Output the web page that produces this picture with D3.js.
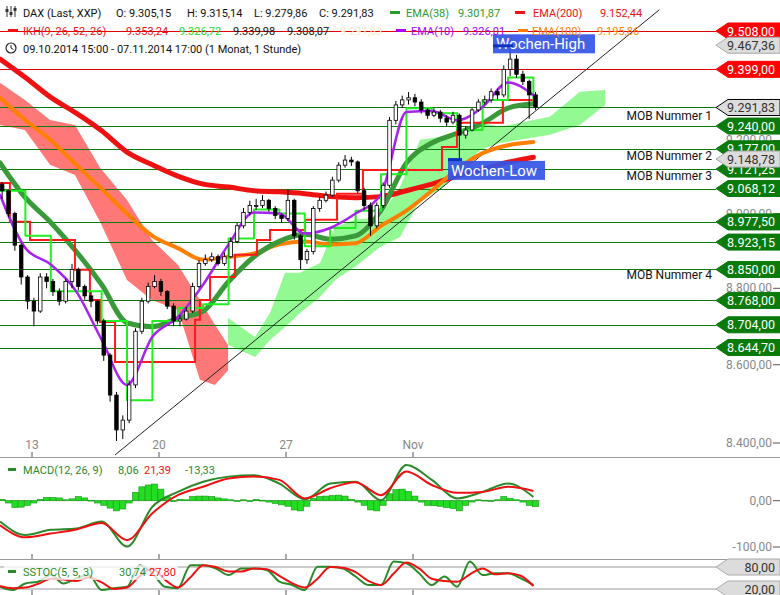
<!DOCTYPE html>
<html><head><meta charset="utf-8">
<script src="https://cdn.jsdelivr.net/npm/d3@7"></script>
<style>body{margin:0;background:#fff}svg{display:block;font-family:Roboto,"Liberation Sans",sans-serif}</style>
</head><body><svg id="c" width="780" height="595"></svg>
<script>
// ---------- DATA ----------
const closes=[9062,9000,8915,8830,8766,8740,8830,8818,8792,8766,8818,8850,8805,8780,8766,8714,8625,8522,8433,8458,8548,8687,8766,8805,8818,8792,8753,8714,8719,8740,8805,8866,8876,8884,8866,8884,8925,8967,9003,9022,9022,9036,9014,8995,8987,9036,8940,8876,8898,9014,9036,9050,9091,9132,9146,9141,9062,9022,8967,9022,9077,9256,9299,9313,9319,9307,9285,9270,9279,9262,9251,9270,9215,9229,9285,9307,9313,9336,9327,9399,9428,9385,9365,9327,9292];
const highs=[9085,9065,9005,8920,8835,8775,8840,8840,8825,8800,8825,8865,8855,8810,8790,8770,8720,8630,8530,8470,8560,8695,8775,8815,8835,8825,8795,8760,8730,8750,8815,8875,8890,8895,8890,8895,8935,8975,9015,9035,9040,9050,9040,9020,9000,9065,9040,8945,8905,9020,9045,9060,9100,9140,9160,9155,9145,9070,9030,9030,9085,9265,9310,9325,9335,9330,9315,9290,9290,9285,9270,9280,9275,9240,9290,9315,9325,9345,9345,9410,9465,9440,9395,9370,9335];
const lows=[9040,8990,8900,8810,8745,8700,8735,8800,8780,8755,8760,8800,8795,8770,8750,8705,8610,8505,8405,8410,8450,8540,8680,8760,8800,8780,8745,8700,8700,8715,8735,8800,8860,8870,8860,8860,8880,8920,8960,8995,9010,9015,9005,8985,8975,8980,8930,8850,8865,8890,9005,9030,9045,9085,9125,9130,9055,9010,8940,8960,9015,9070,9245,9290,9300,9295,9275,9260,9265,9250,9240,9245,9150,9205,9225,9280,9300,9305,9315,9320,9380,9375,9355,9260,9285];
const firstOpen=9080;
const ema200=[9428,9376,9320,9276,9227,9168,9133,9102,9080,9072,9062,9059,9054,9046,9043,9046,9062,9080,9102,9121,9140,9154];
const ema100=[9319,9256,9201,9133,9067,9000,8940,8907,8876,8884,8893,8917,8925,8917,8920,8967,9008,9062,9121,9165,9187,9196];
const ema38=[9138,9043,8976,8898,8810,8709,8699,8721,8740,8818,8884,8925,8944,8931,8940,9008,9138,9193,9220,9248,9290,9302];
const ema10=[9051,8907,8863,8792,8665,8548,8673,8724,8810,8917,9003,9000,8946,8961,9000,9053,9279,9282,9256,9293,9362,9326];
const tenkan=[9062,8940,8792,8792,8714,8509,8714,8748,8758,8933,9011,9000,8912,8961,9008,9107,9290,9276,9229,9313,9376,9313];
const kijunT=[-1.26,-0.87,-0.08,1.69,2.28,2.68,3.27,6.02,6.42,6.61,7.01,7.99,8.86,9.37,10.75,12.01,13.03,14.37,16.14,16.73,18.54,19.8];
const kijunV=[9083,8978,8929,8849,8769,8711,8607,8607,8717,8769,8830,8889,8929,8956,8983,9054,9119,9119,9182,9249,9313,9313];
const redCloudT=[-1.26,-0.28,0.71,1.69,2.68,3.74,4.72,5.75,6.61,7.2,7.72];
const redCloudTop=[9361,9313,9257,9243,9125,9037,8929,8862,8769,8704,8651];
const redCloudBot=[9243,9229,9133,9105,8978,8822,8769,8743,8561,8548,8586];
const greenCloudT=[7.72,8.78,9.37,9.96,10.55,11.34,11.93,12.72,13.7,14.49,15.28,16.06,16.85,17.64,18.43,19.21,20.39,21.57,22.56];
const greenCloudTop=[8722,8672,8735,8841,8841,8867,8964,8983,8991,9073,9202,9210,9229,9249,9238,9249,9266,9336,9341];
const greenCloudBot=[8651,8620,8664,8698,8735,8777,8822,8857,8910,8937,9037,9064,9119,9174,9193,9202,9216,9243,9299];
const trendT=[3.27,24.7], trendV=[8370,9569];
const levels=[
 {v:9508,txt:"9.508,00",kind:"red",line:true},
 {v:9467.36,txt:"9.467,36",kind:"gray",line:false},
 {v:9399,txt:"9.399,00",kind:"red",line:true},
 {v:9291.83,txt:"9.291,83",kind:"cur",line:true},
 {v:9240,txt:"9.240,00",kind:"green",line:true},
 {v:9177,txt:"9.177,00",kind:"green",line:true},
 {v:9121.25,txt:"9.121,25",kind:"green",line:true},
 {v:9148.78,txt:"9.148,78",kind:"gray",line:false},
 {v:9068.12,txt:"9.068,12",kind:"green",line:true},
 {v:8977.5,txt:"8.977,50",kind:"green",line:true},
 {v:8923.15,txt:"8.923,15",kind:"green",line:true},
 {v:8850,txt:"8.850,00",kind:"green",line:true},
 {v:8768,txt:"8.768,00",kind:"green",line:true},
 {v:8704,txt:"8.704,00",kind:"green",line:true},
 {v:8644.7,txt:"8.644,70",kind:"green",line:true}];
const mobLabels=[{t:"MOB Nummer 1",v:9268},{t:"MOB Nummer 2",v:9157},{t:"MOB Nummer 3",v:9103},{t:"MOB Nummer 4",v:8834}];
const priceTicks=[8400,8600,8800,9000,9200];
const dayTicks=[{t:0,l:"13"},{t:5,l:"20"},{t:10,l:"27"},{t:15,l:"Nov"}];
const macdHist=[3,-5,-15,-14,-10,-5,3,7,7,6,2,4,9,6,1,-5,-10,-16,-22,-18,-5,18,30,34,36,25,8,-2,3,2,9,10,10,9,6,4,2,-1,2,-2,3,1,-3,-6,-9,-12,-20,-22,-12,5,9,10,11,12,10,3,-3,-10,-20,-22,-10,15,24,25,20,10,-3,-10,-11,-12,-15,-17,-22,-10,-3,2,1,-2,2,9,5,2,-3,-10,-13];
const macdLine=[-45,-74,-63,-60,-45,-99,-13,19,41,52,55,37,3,37,41,1,77,45,5,19,37,8];
const macdSignal=[-53,-79,-71,-62,-48,-85,-27,12,30,48,52,45,5,27,40,12,63,34,17,19,30,21];
const stochK=[26,17,35,40,58,35,49,58,17,22,26,85,63,26,22,85,85,76,58,76,76,72,40,31,17,81,81,76,54,31,31,95,90,63,31,54,26,95,58,63,63,49,31];
const stochD=[28,22,24,34,48,46,42,52,38,20,24,55,75,45,24,52,85,80,68,68,76,74,56,36,24,48,80,78,66,42,31,62,92,76,48,42,40,60,76,60,63,56,28];

// ---------- SCALES ----------
const svg=d3.select("#c");
const x=d3.scaleLinear().domain([0,20]).range([32,540]);
const y=d3.scaleLog().domain([8400,9508]).range([443,31]);
const yM=d3.scaleLinear().domain([-100,0]).range([547,500.7]);
const yS=d3.scaleLinear().domain([20,80]).range([589,567]);
const loc=d3.formatLocale({decimal:",",thousands:".",grouping:[3],currency:["",""]});
const f2=loc.format(",.2f");
const candleT=i=>-1.3+(i+0.5)*0.25;
const dayT=i=>-1.26+i;
const halfT=i=>-1.26+i*0.5;

const main=svg.append("g");
main.append("clipPath").attr("id","mc").append("rect").attr("x",0).attr("y",0).attr("width",716).attr("height",456);
const g=main.append("g").attr("clip-path","url(#mc)");

const area=(T,top,bot)=>d3.area().x((d,i)=>x(T[i])).y0((d,i)=>y(bot[i])).y1((d,i)=>y(top[i]))(top);
g.append("path").attr("d",area(redCloudT,redCloudTop,redCloudBot)).attr("fill","#ff7878");
g.append("path").attr("d",area(greenCloudT,greenCloudTop,greenCloudBot)).attr("fill","#93f993");

priceTicks.forEach(v=>{
  svg.append("text").attr("x",772).attr("y",y(v)+4).attr("text-anchor","end").attr("font-size",12).attr("fill","#888").text(f2(v));
  svg.append("line").attr("x1",773).attr("x2",780).attr("y1",y(v)).attr("y2",y(v)).attr("stroke","#555");
});

levels.filter(l=>l.line).forEach(l=>{
  g.append("line").attr("x1",0).attr("x2",716).attr("y1",Math.round(y(l.v))+0.5).attr("y2",Math.round(y(l.v))+0.5)
   .attr("stroke",l.kind==="red"?"#e00000":"#0a7a0a").attr("stroke-width",1.2);
});

g.append("line").attr("x1",x(trendT[0])).attr("y1",y(trendV[0])).attr("x2",x(trendT[1])).attr("y2",y(trendV[1])).attr("stroke","#222").attr("stroke-width",1);

const ln=(T,V,col,w,curve)=>g.append("path").attr("d",d3.line().x((d,i)=>x(T(i))).y(d=>y(d)).curve(curve||d3.curveMonotoneX)(V))
  .attr("fill","none").attr("stroke",col).attr("stroke-width",w).attr("stroke-linejoin","round").attr("stroke-linecap","round");
ln(dayT,ema200,"#ee1111",5);
ln(dayT,ema100,"#ff8000",4);
ln(dayT,ema38,"#3a9a3a",5);
g.append("path").attr("d",d3.line().x((d,i)=>x(kijunT[i])).y(d=>y(d)).curve(d3.curveStepAfter)(kijunV)).attr("fill","none").attr("stroke","#ff1a1a").attr("stroke-width",2);
ln(dayT,tenkan,"#22ee22",2,d3.curveStepAfter);
ln(dayT,ema10,"#a822ee",2.5);

closes.forEach((c,i)=>{
  const o=i?closes[i-1]:firstOpen, cx=x(candleT(i));
  g.append("line").attr("x1",cx).attr("x2",cx).attr("y1",y(highs[i])).attr("y2",y(lows[i])).attr("stroke","#000");
  const top=y(Math.max(o,c)), bot=y(Math.min(o,c));
  g.append("rect").attr("x",cx-1.75).attr("width",3.5).attr("y",top).attr("height",Math.max(1,bot-top))
   .attr("fill",c>=o?"#fff":"#000").attr("stroke","#000").attr("stroke-width",0.8);
});

const wbox=(x0,x1,y0,txt)=>{
  svg.append("rect").attr("x",x0).attr("y",y0).attr("width",x1-x0).attr("height",19).attr("fill","#3355e6").attr("opacity",0.92);
  svg.append("text").attr("x",x0+3).attr("y",y0+15).attr("font-size",15).attr("fill","#fff").text(txt);
};
wbox(448,545,y(9141)-1,"Wochen-Low");
svg.append("rect").attr("x",448).attr("y",y(9146)-2).attr("width",14).attr("height",3).attr("fill","#1030c0");
wbox(493,595,y(9490)-3,"Wochen-High");
svg.append("rect").attr("x",493).attr("y",y(9470)).attr("width",20).attr("height",3).attr("fill","#1030c0");

mobLabels.forEach(m=>svg.append("text").attr("x",712).attr("y",y(m.v)+4).attr("text-anchor","end").attr("font-size",12).attr("fill","#111").text(m.t));

const tag=(yy,txt,kind)=>{
  const fill={red:"#ff0000",green:"#0a7a0a",gray:"#dcdcdc",cur:"#dcdcdc"}[kind];
  const tg=svg.append("g");
  tg.append("path").attr("d",`M716,${yy} L728,${yy-8} L780,${yy-8} L780,${yy+8} L728,${yy+8} Z`).attr("fill",fill)
    .attr("stroke",kind==="cur"?"#000":(kind==="gray"?"#aaa":fill)).attr("stroke-width",1);
  tg.append("text").attr("x",775).attr("y",yy+4.5).attr("text-anchor","end").attr("font-size",12.5)
    .attr("fill",(kind==="gray"||kind==="cur")?"#333":"#fff").text(txt);
};
levels.forEach(l=>tag(y(l.v),l.txt,l.kind));

dayTicks.forEach(d=>{
  svg.append("text").attr("x",x(d.t)).attr("y",449).attr("text-anchor","middle").attr("font-size",12).attr("fill","#888").text(d.l);
  [457,559,595].forEach(yy=>svg.append("line").attr("x1",x(d.t)).attr("x2",x(d.t)).attr("y1",yy-5).attr("y2",yy).attr("stroke","#555"));
});
svg.append("line").attr("x1",0).attr("x2",780).attr("y1",457.5).attr("y2",457.5).attr("stroke","#999");
svg.append("line").attr("x1",0).attr("x2",780).attr("y1",559.5).attr("y2",559.5).attr("stroke","#999");

svg.append("line").attr("x1",0).attr("x2",540).attr("y1",yM(0)).attr("y2",yM(0)).attr("stroke","#bbb");
macdHist.forEach((v,i)=>{
  const cx=x(candleT(i));
  svg.append("rect").attr("x",cx-3).attr("width",6).attr("y",Math.min(yM(v),yM(0))).attr("height",Math.max(0.8,Math.abs(yM(v)-yM(0))))
    .attr("fill","#22dd22").attr("stroke","#119911").attr("stroke-width",0.6);
});
const ml=(T,V,sc,col)=>svg.append("path").attr("d",d3.line().x((d,i)=>x(T(i))).y(d=>sc(d)).curve(d3.curveMonotoneX)(V)).attr("fill","none").attr("stroke",col).attr("stroke-width",2);
ml(dayT,macdLine,yM,"#2a8a2a");
ml(dayT,macdSignal,yM,"#ee1111");
[[0,"0,00"],[-100,"-100,00"]].forEach(([v,t])=>{
  svg.append("text").attr("x",772).attr("y",yM(v)+4).attr("text-anchor","end").attr("font-size",12).attr("fill","#888").text(t);
  svg.append("line").attr("x1",773).attr("x2",780).attr("y1",yM(v)).attr("y2",yM(v)).attr("stroke","#555");
});
const H=(xx,yy,t,c)=>svg.append("text").attr("x",xx).attr("y",yy).attr("font-size",11).attr("fill",c).text(t);
svg.append("rect").attr("x",4).attr("y",463).attr("width",212).attr("height",15).attr("fill","#fff").attr("opacity",0.75);
svg.append("rect").attr("x",8).attr("y",468).attr("width",8).attr("height",3).attr("fill","#2a8a2a");
H(23,474,"MACD(12, 26, 9)","#2a8a2a"); H(118,474,"8,06","#2a8a2a"); H(144,474,"21,39","#ee1111"); H(185,474,"-13,33","#2a8a2a");

[80,20].forEach(v=>svg.append("line").attr("x1",0).attr("x2",716).attr("y1",yS(v)).attr("y2",yS(v)).attr("stroke","#999"));
ml(halfT,stochK,yS,"#2a8a2a");
ml(halfT,stochD,yS,"#ee1111");
[[80,"80,00"],[20,"20,00"]].forEach(([v,t])=>tag(yS(v),t,"gray"));
svg.append("rect").attr("x",4).attr("y",565).attr("width",174).attr("height",15).attr("fill","#fff").attr("opacity",0.75);
svg.append("rect").attr("x",8).attr("y",570).attr("width",8).attr("height",3).attr("fill","#2a8a2a");
H(23,576,"SSTOC(5, 5, 3)","#2a8a2a"); H(119,576,"30,74","#2a8a2a"); H(149,576,"27,80","#ee1111");

const dash=(xx,yy,c)=>svg.append("rect").attr("x",xx).attr("y",yy).attr("width",10).attr("height",3).attr("fill",c);
[7,11,15].forEach((xx,i)=>{svg.append("line").attr("x1",xx).attr("x2",xx).attr("y1",6).attr("y2",17).attr("stroke","#333");
 svg.append("rect").attr("x",xx-1.5).attr("y",[9,12,8][i]).attr("width",3).attr("height",3).attr("fill","#333");});
H(23,17,"DAX (Last, XXP)","#111"); H(116,17,"O: 9.305,15","#111"); H(187,17,"H: 9.315,14","#111"); H(254,17,"L: 9.279,86","#111"); H(319,17,"C: 9.291,83","#111");
dash(390,11,"#2a9a2a"); H(406,17,"EMA(38)","#2a9a2a"); H(458,17,"9.301,87","#2a9a2a");
dash(515,11,"#ee1111"); H(533,17,"EMA(200)","#ee1111"); H(600,17,"9.152,44","#ee1111");
dash(8,29,"#ee1111"); H(23,35,"IKH(9, 26, 52, 26)","#ee1111"); H(126,35,"9.353,24","#ee1111");
H(179,35,"9.326,72","#22dd22"); H(233,35,"9.339,98","#111"); H(287,35,"9.308,07","#111"); H(340,35,"9.291,83","#f4ecc8");
dash(396,29,"#aa00ff"); H(411,35,"EMA(10)","#aa00ff"); H(463,35,"9.326,01","#aa00ff");
dash(518,29,"#ff8000"); H(532,35,"EMA(100)","#ff8000"); H(597,35,"9.195,86","#ff8000");
svg.append("circle").attr("cx",11).attr("cy",48).attr("r",5).attr("fill","none").attr("stroke","#222").attr("stroke-width",1.2);
svg.append("path").attr("d","M11,45 L11,48 L13.5,49.5").attr("fill","none").attr("stroke","#222");
H(23,53,"09.10.2014 15:00 - 07.11.2014 17:00 (1 Monat, 1 Stunde)","#111");
</script></body></html>
